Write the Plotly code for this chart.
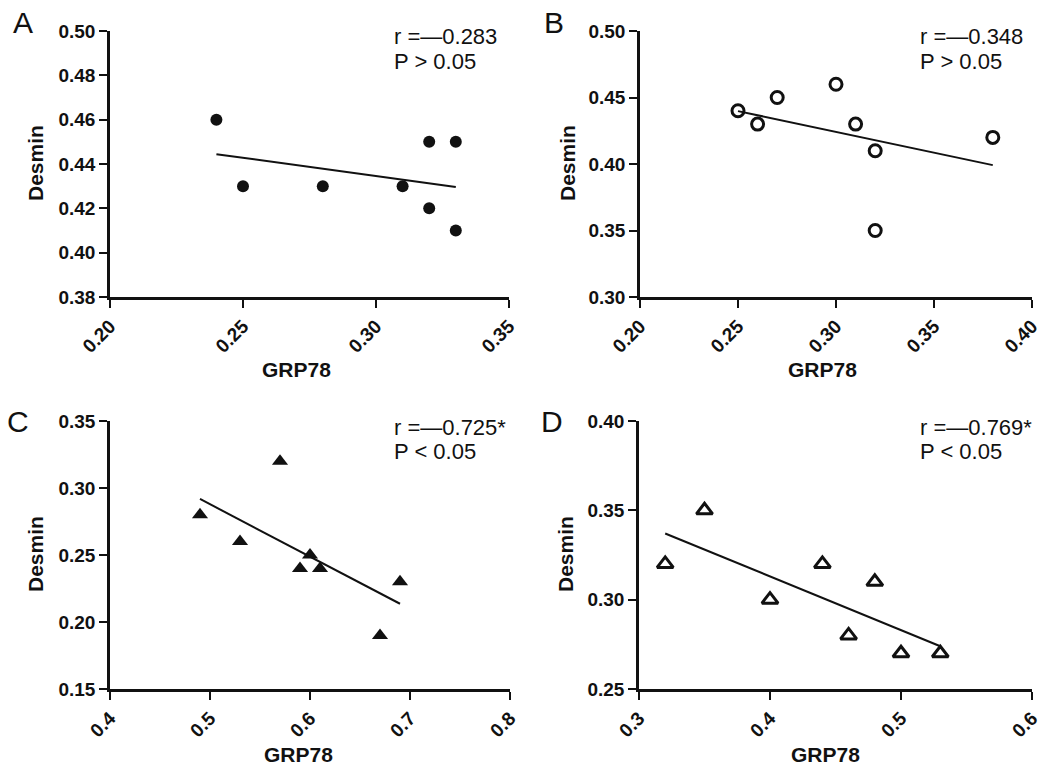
import numpy as np
import plotly.graph_objects as go

# ---- data ----
a_x = [0.24, 0.25, 0.28, 0.31, 0.32, 0.32, 0.33, 0.33]
a_y = [0.46, 0.43, 0.43, 0.43, 0.45, 0.42, 0.45, 0.41]
b_x = [0.25, 0.26, 0.27, 0.30, 0.31, 0.32, 0.32, 0.38]
b_y = [0.44, 0.43, 0.45, 0.46, 0.43, 0.41, 0.35, 0.42]
c_x = [0.49, 0.53, 0.57, 0.59, 0.60, 0.61, 0.67, 0.69]
c_y = [0.28, 0.26, 0.32, 0.24, 0.25, 0.24, 0.19, 0.23]
d_x = [0.32, 0.35, 0.40, 0.44, 0.46, 0.48, 0.50, 0.53]
d_y = [0.32, 0.35, 0.30, 0.32, 0.28, 0.31, 0.27, 0.27]

panel_letters = ["A", "B", "C", "D"]
r_texts = ["r =—0.283", "r =—0.348", "r =—0.725*", "r =—0.769*"]
p_texts = ["P > 0.05", "P > 0.05", "P < 0.05", "P < 0.05"]
x_titles = ["GRP78"] * 4
y_titles = ["Desmin"] * 4

a_xticks = [0.20, 0.25, 0.30, 0.35]
a_yticks = [0.38, 0.40, 0.42, 0.44, 0.46, 0.48, 0.50]
b_xticks = [0.20, 0.25, 0.30, 0.35, 0.40]
b_yticks = [0.30, 0.35, 0.40, 0.45, 0.50]
c_xticks = [0.4, 0.5, 0.6, 0.7, 0.8]
c_yticks = [0.15, 0.20, 0.25, 0.30, 0.35]
d_xticks = [0.3, 0.4, 0.5, 0.6]
d_yticks = [0.25, 0.30, 0.35, 0.40]

W, H = 1051, 768
FONT = "Liberation Sans, Arial, sans-serif"

panels = [
    dict(x=a_x, y=a_y, xt=a_xticks, yt=a_yticks, xf=".2f", yf=".2f",
         sym="circle", size=12, filled=True,
         px=(110, 509), py=(31, 297),
         letter=(23, 23), rt=(392, 36), pt=(392, 62), xtp=(296, 370), ytp=(35, 163)),
    dict(x=b_x, y=b_y, xt=b_xticks, yt=b_yticks, xf=".2f", yf=".2f",
         sym="circle-open", size=12, filled=False,
         px=(640, 1032), py=(31, 297),
         letter=(554, 23), rt=(918, 36), pt=(918, 62), xtp=(822, 370), ytp=(567, 163)),
    dict(x=c_x, y=c_y, xt=c_xticks, yt=c_yticks, xf=".1f", yf=".2f",
         sym="triangle-up", size=14, filled=True,
         px=(110, 510), py=(421, 689),
         letter=(18, 421), rt=(392, 427), pt=(392, 451), xtp=(298, 754), ytp=(35, 554)),
    dict(x=d_x, y=d_y, xt=d_xticks, yt=d_yticks, xf=".1f", yf=".2f",
         sym="triangle-up-open", size=14, filled=False,
         px=(639, 1032), py=(421, 689),
         letter=(552, 421), rt=(918, 427), pt=(918, 451), xtp=(825, 754), ytp=(565, 554)),
]

fig = go.Figure()
layout = {}
annotations = []

for i, p in enumerate(panels):
    n = i + 1
    xa = "x" if n == 1 else f"x{n}"
    ya = "y" if n == 1 else f"y{n}"
    xkey = "xaxis" if n == 1 else f"xaxis{n}"
    ykey = "yaxis" if n == 1 else f"yaxis{n}"

    fig.add_trace(go.Scatter(
        x=p["x"], y=p["y"], mode="markers", xaxis=xa, yaxis=ya,
        marker=dict(symbol=p["sym"], size=p["size"], color="#111111",
                    line=dict(color="#111111", width=3 if not p["filled"] else 0)),
        showlegend=False, cliponaxis=False))

    slope, inter = np.polyfit(p["x"], p["y"], 1)
    lx = [min(p["x"]), max(p["x"])]
    ly = [slope * v + inter for v in lx]
    fig.add_trace(go.Scatter(x=lx, y=ly, mode="lines", xaxis=xa, yaxis=ya,
                             line=dict(color="#111111", width=2), showlegend=False))

    x0, x1 = p["px"]
    y0, y1 = p["py"]
    axis_common = dict(showline=True, linecolor="#111111", linewidth=2.5,
                       ticks="outside", ticklen=8, tickwidth=2, tickcolor="#111111",
                       showgrid=False, zeroline=False, automargin=False,
                       tickfont=dict(family=FONT, size=19, color="#111111"))
    layout[xkey] = dict(axis_common, domain=[x0 / W, x1 / W], anchor=ya,
                        range=[p["xt"][0], p["xt"][-1]], tickvals=p["xt"],
                        ticktext=[f"<b>{v:{p['xf']}}</b>" for v in p["xt"]],
                        tickangle=-45)
    layout[ykey] = dict(axis_common, domain=[1 - y1 / H, 1 - y0 / H], anchor=xa,
                        range=[p["yt"][0], p["yt"][-1]], tickvals=p["yt"],
                        ticktext=[f"<b>{v:{p['yf']}}</b>" for v in p["yt"]])

    def ann(text, pos, size, bold=False, xanchor="center", textangle=0):
        annotations.append(dict(
            text=f"<b>{text}</b>" if bold else text,
            x=pos[0] / W, y=1 - pos[1] / H, xref="paper", yref="paper",
            xanchor=xanchor, yanchor="middle", showarrow=False, textangle=textangle,
            font=dict(family=FONT, size=size, color="#111111")))

    ann(panel_letters[i], p["letter"], 30)
    ann(r_texts[i], p["rt"], 22, xanchor="left")
    ann(p_texts[i], p["pt"], 22, xanchor="left")
    ann(x_titles[i], p["xtp"], 21, bold=True)
    ann(y_titles[i], p["ytp"], 21, bold=True, textangle=-90)

fig.update_layout(**layout)
fig.update_layout(template="none", width=W, height=H,
                  margin=dict(l=0, r=0, t=0, b=0, autoexpand=False),
                  paper_bgcolor="white", plot_bgcolor="white",
                  annotations=annotations, showlegend=False)

fig.write_html("out.html", config={"displayModeBar": False},
               post_script="document.body.style.margin='0';document.body.style.overflow='hidden';")
